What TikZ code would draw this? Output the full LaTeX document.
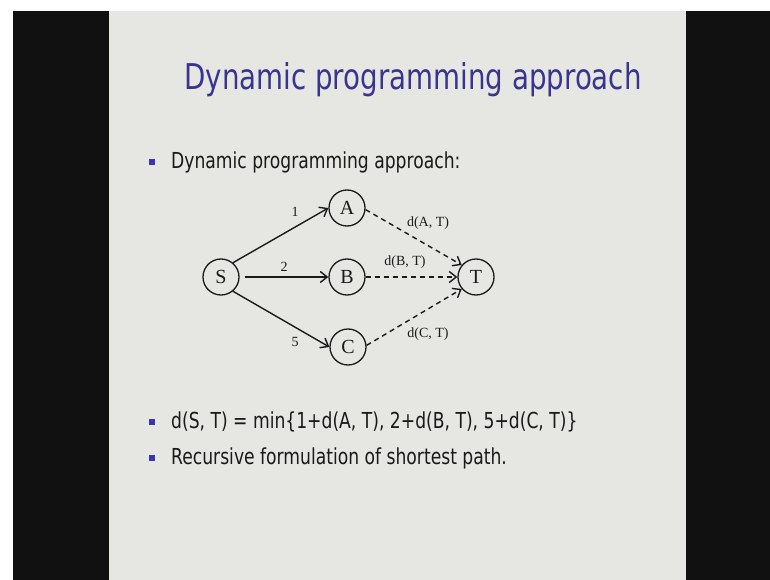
\documentclass[tikz,border=0pt]{standalone}
\usepackage{fontspec}
\usetikzlibrary{arrows.meta}
\newfontfamily\slidefont[FakeStretch=0.78]{DejaVu Sans}
\newfontfamily\graphfont{Liberation Serif}
\definecolor{slidebg}{HTML}{E6E7E3}
\definecolor{framebg}{HTML}{111111}
\definecolor{titleblue}{HTML}{3A3490}
\definecolor{bulletblue}{HTML}{3B33B0}
\definecolor{inkgray}{HTML}{1A1A1A}
\tikzset{
  x=1pt, y=-1pt,
  vtx/.style={circle, draw=inkgray, line width=1.3pt, minimum size=36pt, inner sep=0pt,
    text=inkgray, font=\graphfont\fontsize{20}{22}\selectfont},
  wlab/.style={text=inkgray, inner sep=0pt, font=\graphfont\fontsize{14}{16}\selectfont},
  dlab/.style={text=inkgray, inner sep=0pt, font=\graphfont\fontsize{14}{16}\selectfont},
  solidarrow/.style={draw=inkgray, line width=1.4pt, -{Straight Barb[length=7pt,width=11pt,line width=1.4pt]}},
  dasharrow/.style={solidarrow, dash pattern=on 5pt off 4pt},
  bul/.style={fill=bulletblue, minimum size=6.5pt, inner sep=0pt},
  bodytext/.style={anchor=base west, inner sep=0pt, text=inkgray, font=\slidefont\fontsize{22}{26}\selectfont},
}
\begin{document}
\begin{tikzpicture}
\useasboundingbox (0,0) rectangle (770,580);
% surrounding frame and slide area
\fill[white] (0,0) rectangle (770,580);
\fill[framebg] (13,11) rectangle (770,580);
\fill[slidebg] (109,11) rectangle (686,580);

% title
\node[anchor=base, inner sep=0pt, text=titleblue, font=\slidefont\fontsize{35.5}{40}\selectfont]
  (title) at (413,90) {Dynamic programming approach};

% first bullet
\node[bul] (b1) at (152,162) {};
\node[bodytext] (t1) at (171,168) {Dynamic programming approach:};

% graph
\node[vtx] (S) at (221,277) {S};
\node[vtx] (A) at (347,208) {A};
\node[vtx] (B) at (347,277) {B};
\node[vtx] (C) at (348,347) {C};
\node[vtx] (T) at (476,277) {T};

\draw[solidarrow] (S.50) -- (A.west);
\draw[solidarrow] ([xshift=5pt]S.east) -- (B.west);
\draw[solidarrow] (S.-50) -- (C.west);
\draw[dasharrow] (A.-5) -- (T.140);
\draw[dasharrow] (B.east) -- (T.west);
\draw[dasharrow] (C.5) -- (T.220);

\node[wlab] (w1) at (295,212) {1};
\node[wlab] (w2) at (284,267) {2};
\node[wlab] (w5) at (295,342) {5};
\node[dlab] (dA) at (428,223) {d(A, T)};
\node[dlab] (dB) at (405,262) {d(B, T)};
\node[dlab] (dC) at (428,334) {d(C, T)};

% remaining bullets
\node[bul] (b2) at (152,422) {};
\node[bodytext] (t2) at (171,428) {d(S, T) = min\{1+d(A, T), 2+d(B, T), 5+d(C, T)\}};
\node[bul] (b3) at (152,458) {};
\node[bodytext] (t3) at (171,464) {Recursive formulation of shortest path.};
\end{tikzpicture}
\end{document}
